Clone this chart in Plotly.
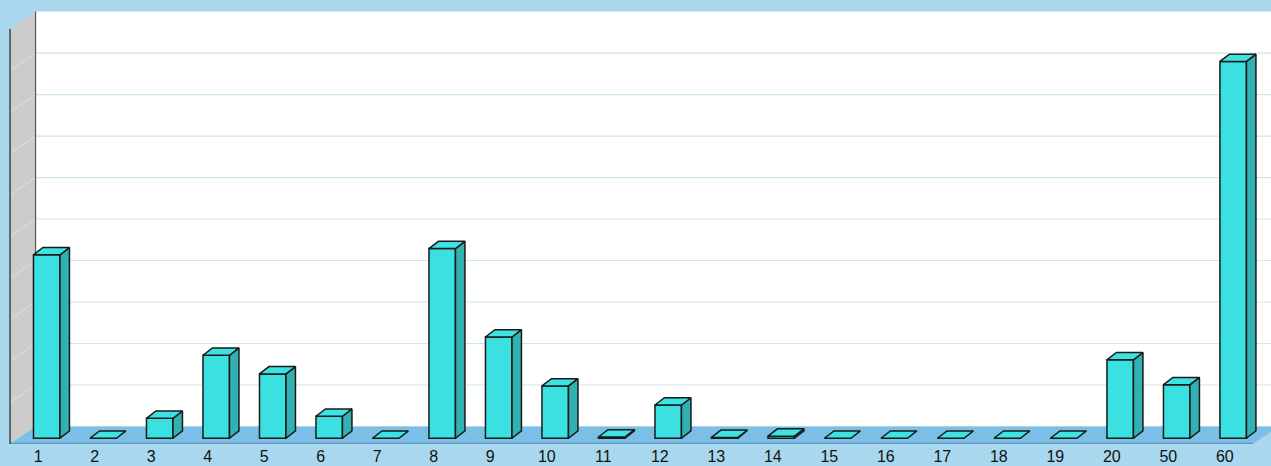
import plotly.graph_objects as go

# ---- data ----
categories = ["1", "2", "3", "4", "5", "6", "7", "8", "9", "10", "11", "12",
              "13", "14", "15", "16", "17", "18", "19", "20", "50", "60"]
values = [44.2, 0, 4.8, 20.0, 15.5, 5.3, 0, 45.7, 24.4, 12.6, 0.3, 8.0,
          0.2, 0.5, 0, 0, 0, 0, 0, 18.9, 12.9, 90.8]
grid_values = [10, 20, 30, 40, 50, 60, 70, 80, 90]
wall_max = 100

# ---- 3D styling constants (in axis units) ----
DX, DY = 0.4513, 4.217          # full depth of the floor / walls
F0 = 0.33                       # depth where bar fronts sit
BDX, BDY = 0.168, 1.76          # bar depth
HW = 0.2345                     # half bar width
XL = -0.5                       # left wall position
XR = len(categories) - 0.5      # right end of floor

BG = "#a9d8ee"
FLOOR = "#7bbfe6"
WALL_L = "#cccccc"
GRID = "#cde6e9"
FRONT = "#3be0e0"
SIDE = "#31b1b1"
TOP = "#3fe2e2"
EDGE = "#1a1a1a"

n = len(categories)
xs = list(range(n))

fig = go.Figure()

# bar front faces
fig.add_trace(go.Bar(
    x=xs, y=values, base=[F0 * DY] * n,
    width=2 * HW, offset=F0 * DX - HW,
    marker=dict(color=FRONT, line=dict(color=EDGE, width=1.5)),
    hoverinfo="skip", showlegend=False,
))

# top and side faces
top_x, top_y, side_x, side_y = [], [], [], []
for i, v in enumerate(values):
    xl = i + F0 * DX - HW
    xr = i + F0 * DX + HW
    yb = F0 * DY
    yt = yb + v
    top_x += [xl, xr, xr + BDX, xl + BDX, xl, None]
    top_y += [yt, yt, yt + BDY, yt + BDY, yt, None]
    if v > 0:
        side_x += [xr, xr + BDX, xr + BDX, xr, xr, None]
        side_y += [yb, yb + BDY, yt + BDY, yt, yb, None]

fig.add_trace(go.Scatter(x=side_x, y=side_y, mode="lines", fill="toself",
                         fillcolor=SIDE, line=dict(color=EDGE, width=1.5),
                         hoverinfo="skip", showlegend=False))
fig.add_trace(go.Scatter(x=top_x, y=top_y, mode="lines", fill="toself",
                         fillcolor=TOP, line=dict(color=EDGE, width=1.5),
                         hoverinfo="skip", showlegend=False))

shapes = []
# back wall
shapes.append(dict(type="path", xref="x", yref="y", layer="below",
                   path=f"M{XL+DX},{DY} L{XR+3},{DY} L{XR+3},{wall_max+DY} L{XL+DX},{wall_max+DY} Z",
                   fillcolor="white", line=dict(width=0)))
# left wall
shapes.append(dict(type="path", xref="x", yref="y", layer="below",
                   path=f"M{XL},0 L{XL},{wall_max} L{XL+DX},{wall_max+DY} L{XL+DX},{DY} Z",
                   fillcolor=WALL_L, line=dict(width=0)))
# gridlines
for g in grid_values:
    shapes.append(dict(type="line", xref="x", yref="y", layer="below",
                       x0=XL + DX, x1=XR + 3, y0=g + DY, y1=g + DY,
                       line=dict(color=GRID, width=1.2)))
    shapes.append(dict(type="line", xref="x", yref="y", layer="below",
                       x0=XL, x1=XL + DX, y0=g, y1=g + DY,
                       line=dict(color="#d6e2e6", width=1)))
# floor
shapes.append(dict(type="path", xref="x", yref="y", layer="below",
                   path=f"M{XL},0 L{XR},0 L{XR+DX},{DY} L{XL+DX},{DY} Z",
                   fillcolor=FLOOR, line=dict(width=0)))
shapes.append(dict(type="line", xref="x", yref="y", layer="below",
                   x0=XL, x1=XR, y0=0.15, y1=0.15,
                   line=dict(color="#5f97c2", width=1.2)))
shapes.append(dict(type="line", xref="x", yref="y", layer="below",
                   x0=XR, x1=XR + DX, y0=0.15, y1=DY,
                   line=dict(color="#8fc6e6", width=1)))
# wall edges
shapes.append(dict(type="line", xref="x", yref="y", layer="below",
                   x0=XL, x1=XL, y0=0, y1=wall_max,
                   line=dict(color="#444444", width=1.5)))
shapes.append(dict(type="line", xref="x", yref="y", layer="below",
                   x0=XL + DX, x1=XL + DX, y0=DY, y1=wall_max + DY,
                   line=dict(color="#555555", width=1.2)))

fig.update_layout(
    width=1271, height=466,
    margin=dict(l=0, r=0, t=0, b=22, autoexpand=False),
    paper_bgcolor=BG, plot_bgcolor=BG,
    barmode="overlay",
    shapes=shapes,
    showlegend=False,
    xaxis=dict(range=[-0.678, 21.818], tickmode="array", tickvals=xs,
               ticktext=categories, showgrid=False, zeroline=False,
               showline=False, ticks="", fixedrange=True, automargin=False,
               ticklabelstandoff=1,
               tickfont=dict(family="Arial, Liberation Sans", size=16, color="#111111")),
    yaxis=dict(range=[0, 107.0], showgrid=False, zeroline=False, automargin=False,
               showticklabels=False, showline=False, fixedrange=True),
)

fig.write_html("out.html", config={"displayModeBar": False},
               post_script="document.body.style.margin='0';document.body.style.background='%s';" % BG)
